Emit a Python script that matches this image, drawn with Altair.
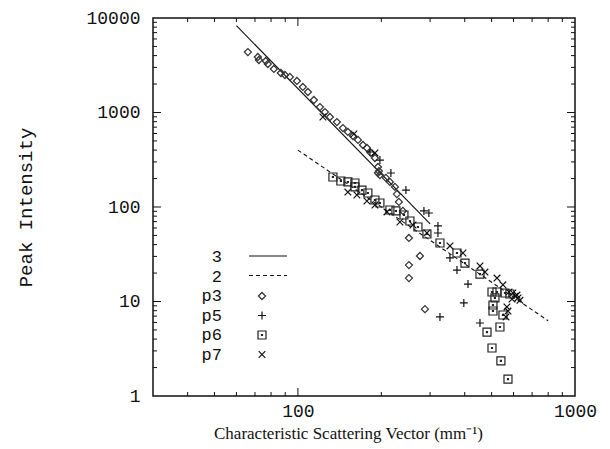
import altair as alt
import pandas as pd

# ---------------- data ----------------
x_tick_labels = [100, 1000]
y_tick_labels = [1, 10, 100, 1000, 10000]
x_major_inner = [100]
y_major_inner = [10, 100, 1000]
x_minor = [40, 50, 60, 70, 80, 90, 200, 300, 400, 500, 600, 700, 800, 900]
y_minor = [2, 3, 4, 5, 6, 7, 8, 9, 20, 30, 40, 50, 60, 70, 80, 90,
           200, 300, 400, 500, 600, 700, 800, 900,
           2000, 3000, 4000, 5000, 6000, 7000, 8000, 9000]

line3_q = [60, 300]
line3_i = [8300, 66.4]
line2_q = [100, 800]
line2_i = [400, 6.25]

p3_q = [66.0, 71.7, 72.3, 76.6, 77.9, 81.9, 86.8, 89.8, 93.6, 99.2, 104.2, 108.7,
        114.2, 120.1, 125.2, 130.5, 138.3, 145.4, 151.5, 158.0, 164.7, 171.7, 177.5,
        183.5, 189.7, 194.5, 196.1, 197.7, 194.5, 207.8, 214.8, 224.0, 227.6, 231.5,
        239.3, 251.6, 275.7, 251.6, 251.6, 287.4]
p3_i = [4365, 3866, 3594, 3508, 3260, 2887, 2618, 2494, 2376, 2155, 1862, 1648,
        1356, 1143, 1012, 896, 793, 685, 622, 564, 512, 453, 421,
        373, 330, 265, 240, 218, 229, 203, 184, 163, 137, 113,
        90.8, 47.0, 30.3, 24.3, 17.7, 8.3]

p5_q = [182, 197.7, 216.6, 245.4, 285, 297, 320.2, 320.2, 353.8, 375, 411, 397, 325.6, 454]
p5_i = [382, 314, 229, 151, 90.8, 86.4, 63, 53.1, 28.9, 21.5, 15.3, 9.65, 6.86, 5.92]

p6_q = [133.8, 142.9, 151.5, 160.6, 160.6, 170.3, 178.9, 189.7, 197.7, 214.8, 225.8,
        241.4, 253.7, 271.2, 292.2, 325.6, 375, 400.8, 454, 501.7, 523, 514.2, 505.8,
        505.8, 549.6, 536, 481.3, 501.7, 540.3, 573, 558.7, 582]
p6_i = [207.6, 188.4, 184, 179.5, 163, 151, 140.6, 118.6, 110.2, 92.9, 90.8,
        82.3, 71.1, 61.4, 51.8, 41.6, 32.6, 25.5, 19.5, 12.6, 12.6, 10.9, 9.18,
        7.93, 7.2, 5.37, 4.75, 3.22, 2.35, 1.51, 12.3, 12.0]

p7_q = [123.1, 159.2, 189.7, 151.5, 163.3, 177.5, 189.7, 209.6, 233.4, 260.2, 292.2,
        353.8, 394.2, 454, 473.3, 523, 549.6, 577.9, 607.5, 622.6, 592.5, 568.1, 573,
        563.6, 633, 597, 617.5]
p7_i = [896, 592, 373, 144, 134, 115.7, 105, 88.6, 69.4, 64.5, 53.1,
        38.7, 32.6, 23.8, 20.5, 17.7, 15, 12.6, 11.4, 10.9, 10.6, 8.75, 7.93,
        6.86, 10.3, 12.3, 11.7]

legend_labels = ["3", "2", "p3", "p5", "p6", "p7"]

# ---------------- styling ----------------
W, H = 422, 378
MONO = "Liberation Mono"
SERIF = "Liberation Serif"
INK = "#111111"

SH_PLUS = "M-1,0H1M0,-1V1"
SH_X = "M-1,-1L1,1M-1,1L1,-1"
SH_SQ = "M-1,-1H1V1H-1Z M-0.12,-0.12H0.12V0.12H-0.12Z"

xscale = alt.Scale(type="log", domain=[30, 1000], nice=False)
yscale = alt.Scale(type="log", domain=[1, 10000], nice=False)

xaxis = alt.Axis(values=x_tick_labels, format="d", ticks=False, domain=False, grid=False,
                 labelFont=MONO, labelFontSize=18, labelColor=INK, labelPadding=6,
                 labelFlush=False,
                 title="Characteristic Scattering Vector (mm\u207b\u00b9)",
                 titleFont=SERIF, titleFontSize=17, titleFontWeight="normal",
                 titleColor=INK, titleX=195, titleY=37, titleBaseline="middle",
                 titleAlign="center", titleAnchor="start")
yaxis = alt.Axis(values=y_tick_labels, format="d", ticks=False, domain=False, grid=False,
                 labelFont=MONO, labelFontSize=18, labelColor=INK, labelPadding=13,
                 labelFlush=False,
                 title="Peak Intensity", titleFont=MONO, titleFontSize=19,
                 titleFontWeight="normal", titleColor=INK, titleAngle=270,
                 titleX=-128, titleY=189, titleBaseline="middle", titleAlign="center",
                 titleAnchor="start")


def xy(df):
    return dict(x=alt.X("q:Q", scale=xscale, axis=xaxis),
                y=alt.Y("i:Q", scale=yscale, axis=yaxis))


def series(q, i, shape, size, sw=1.1, color=INK):
    df = pd.DataFrame({"q": q, "i": i})
    return alt.Chart(df).mark_point(shape=shape, size=size, filled=False,
                                    strokeWidth=sw, color=color, opacity=1).encode(**xy(df))


layers = []

# model lines
df3 = pd.DataFrame({"q": line3_q, "i": line3_i})
df2 = pd.DataFrame({"q": line2_q, "i": line2_i})
layers.append(alt.Chart(df3).mark_line(color=INK, strokeWidth=1.1).encode(**xy(df3)))
layers.append(alt.Chart(df2).mark_line(color=INK, strokeWidth=1.1, strokeDash=[4, 3]).encode(**xy(df2)))

# data series
layers.append(series(p3_q, p3_i, "diamond", 50, 1.2, "#333333"))
layers.append(series(p5_q, p5_i, SH_PLUS, 64, 1.2))
layers.append(series(p6_q, p6_i, SH_SQ, 64, 1.2, "#222222"))
layers.append(series(p7_q, p7_i, SH_X, 44, 1.2))


# inward ticks on all four sides
def xticks(vals, length):
    df = pd.DataFrame({"v": vals})
    bot = alt.Chart(df).mark_rule(color=INK, strokeWidth=1).encode(
        x=alt.X("v:Q", scale=xscale, axis=xaxis), y=alt.value(H), y2=alt.value(H - length))
    top = alt.Chart(df).mark_rule(color=INK, strokeWidth=1).encode(
        x=alt.X("v:Q", scale=xscale, axis=xaxis), y=alt.value(0), y2=alt.value(length))
    return [bot, top]


def yticks(vals, length):
    df = pd.DataFrame({"v": vals})
    left = alt.Chart(df).mark_rule(color=INK, strokeWidth=1).encode(
        y=alt.Y("v:Q", scale=yscale, axis=yaxis), x=alt.value(0), x2=alt.value(length))
    right = alt.Chart(df).mark_rule(color=INK, strokeWidth=1).encode(
        y=alt.Y("v:Q", scale=yscale, axis=yaxis), x=alt.value(W), x2=alt.value(W - length))
    return [left, right]


layers += xticks(x_minor, 4) + xticks(x_major_inner, 8)
layers += yticks(y_minor, 4) + yticks(y_major_inner, 8)

# legend (inside the plot)
rows = [239, 258.5, 278, 297.5, 317, 336.5]
lab_x = 69
sym_x = 109
ln_x0, ln_x1 = 96, 134
one = pd.DataFrame({"k": [0]})
for lab, ry in zip(legend_labels, rows):
    layers.append(alt.Chart(pd.DataFrame({"t": [lab]})).mark_text(
        font=MONO, fontSize=17, align="right", baseline="middle", color=INK
    ).encode(x=alt.value(lab_x), y=alt.value(ry), text="t:N"))

layers.append(alt.Chart(one).mark_rule(color=INK, strokeWidth=1.1).encode(
    x=alt.value(ln_x0), x2=alt.value(ln_x1), y=alt.value(rows[0] - 1)))
layers.append(alt.Chart(one).mark_rule(color=INK, strokeWidth=1.1, strokeDash=[4, 3]).encode(
    x=alt.value(ln_x0), x2=alt.value(ln_x1), y=alt.value(rows[1] - 1)))
for shp, sz, ry, col in [("diamond", 50, rows[2], "#333333"), (SH_PLUS, 64, rows[3], INK),
                         (SH_SQ, 64, rows[4], "#222222"), (SH_X, 44, rows[5], INK)]:
    layers.append(alt.Chart(one).mark_point(shape=shp, size=sz, filled=False, strokeWidth=1.2,
                                            color=col, opacity=1).encode(
        x=alt.value(sym_x), y=alt.value(ry)))

chart = alt.layer(*layers).properties(
    width=W, height=H,
    autosize=alt.AutoSizeParams(type="none"),
    padding={"left": 153, "top": 18, "right": 35, "bottom": 53},
    background="white",
).configure_view(stroke=INK, strokeWidth=1.5)

chart.save("out.html", embed_options={"renderer": "svg", "actions": False})
